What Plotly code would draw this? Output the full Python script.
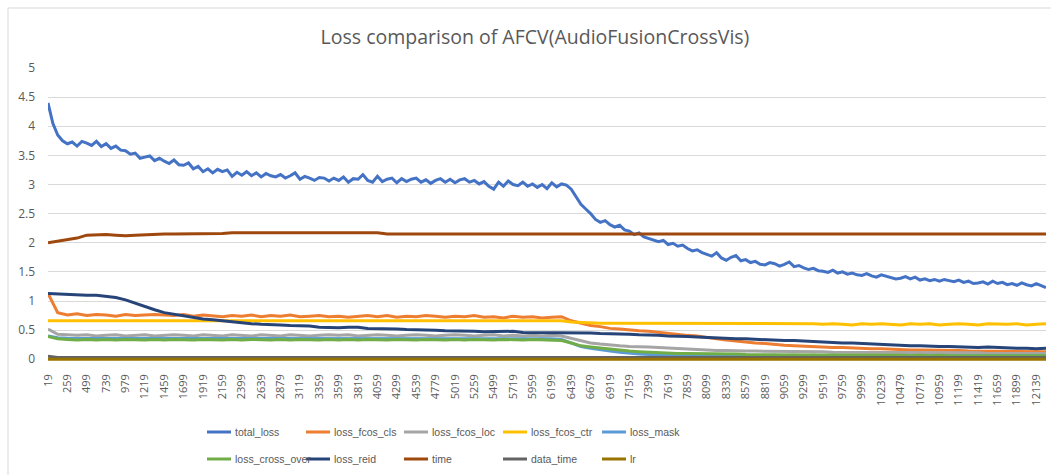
import plotly.graph_objects as go

# ---------------- data ----------------
tick_labels = [19, 259, 499, 739, 979, 1219, 1459, 1699, 1919, 2159, 2399, 2639, 2879,
               3119, 3359, 3599, 3819, 4059, 4299, 4539, 4779, 5019, 5259, 5499, 5719,
               5959, 6199, 6439, 6679, 6919, 7159, 7399, 7619, 7859, 8099, 8339, 8579,
               8819, 9059, 9299, 9519, 9759, 9999, 10239, 10479, 10719, 10959, 11199,
               11419, 11659, 11899, 12139]

# iterations sampled for total_loss (fine)
iters_fine = [19, 79, 139, 199, 259, 319, 379, 439, 499, 559, 619, 679, 739, 799, 859, 919,
              979, 1039, 1099, 1159, 1219, 1279, 1339, 1399, 1459, 1519, 1579, 1639,
              1699, 1759, 1819, 1879, 1919, 1979, 2039, 2099, 2159, 2219, 2279, 2339,
              2399, 2459, 2519, 2579, 2639, 2699, 2759, 2819, 2879, 2939, 2999, 3059,
              3119, 3179, 3239, 3299, 3359, 3419, 3479, 3539, 3599, 3659, 3719, 3779,
              3819, 3879, 3939, 3999, 4059, 4119, 4179, 4239, 4299, 4359, 4419, 4479,
              4539, 4599, 4659, 4719, 4779, 4839, 4899, 4959, 5019, 5079, 5139, 5199,
              5259, 5319, 5379, 5439, 5499, 5559, 5619, 5679, 5719, 5779, 5839, 5899,
              5959, 6019, 6079, 6139, 6199, 6259, 6319, 6379, 6439, 6499, 6559, 6619,
              6679, 6739, 6799, 6859, 6919, 6979, 7039, 7099, 7159, 7219, 7279, 7339,
              7399, 7459, 7519, 7579, 7619, 7679, 7739, 7799, 7859, 7919, 7979, 8039,
              8099, 8159, 8219, 8279, 8339, 8399, 8459, 8519, 8579, 8639, 8699, 8759,
              8819, 8879, 8939, 8999, 9059, 9119, 9179, 9239, 9299, 9359, 9419, 9479,
              9519, 9579, 9639, 9699, 9759, 9819, 9879, 9939, 9999, 10059, 10119, 10179,
              10239, 10299, 10359, 10419, 10479, 10539, 10599, 10659, 10719, 10779, 10839, 10899,
              10959, 11019, 11079, 11139, 11199, 11259, 11319, 11379, 11419, 11479, 11539, 11599,
              11659, 11719, 11779, 11839, 11899, 11959, 12019, 12079, 12139, 12199, 12259]

# iterations sampled for the other series (coarse)
iters = [19, 139, 259, 379, 499, 619, 739, 859, 979, 1099, 1219, 1339, 1459, 1579, 1699, 1819,
         1919, 2039, 2159, 2279, 2399, 2519, 2639, 2759, 2879, 2999, 3119, 3239, 3359, 3479,
         3599, 3719, 3819, 3939, 4059, 4179, 4299, 4419, 4539, 4659, 4779, 4899, 5019, 5139,
         5259, 5379, 5499, 5619, 5719, 5839, 5959, 6079, 6199, 6319, 6439, 6559, 6679, 6799,
         6919, 7039, 7159, 7279, 7399, 7519, 7619, 7739, 7859, 7979, 8099, 8219, 8339, 8459,
         8579, 8699, 8819, 8939, 9059, 9179, 9299, 9419, 9519, 9639, 9759, 9879, 9999, 10119,
         10239, 10359, 10479, 10599, 10719, 10839, 10959, 11079, 11199, 11319, 11419, 11539,
         11659, 11779, 11899, 12019, 12139, 12259]

total_loss = [4.40, 4.05, 3.85, 3.75, 3.70, 3.73, 3.66, 3.74, 3.71, 3.67, 3.74, 3.65,
              3.70, 3.62, 3.66, 3.59, 3.58, 3.52, 3.54, 3.45, 3.47, 3.49, 3.41, 3.45,
              3.40, 3.36, 3.42, 3.34, 3.33, 3.37, 3.27, 3.31, 3.22, 3.27, 3.20, 3.26,
              3.22, 3.25, 3.14, 3.21, 3.16, 3.22, 3.15, 3.20, 3.13, 3.19, 3.15, 3.13,
              3.17, 3.11, 3.15, 3.20, 3.09, 3.14, 3.11, 3.07, 3.12, 3.11, 3.06, 3.11,
              3.07, 3.13, 3.04, 3.10, 3.09, 3.17, 3.07, 3.04, 3.14, 3.05, 3.09, 3.11,
              3.03, 3.10, 3.05, 3.09, 3.11, 3.04, 3.08, 3.02, 3.07, 3.10, 3.04, 3.09,
              3.03, 3.08, 3.10, 3.04, 3.07, 3.01, 3.05, 2.97, 2.92, 3.04, 2.97, 3.06,
              3.00, 2.98, 3.04, 2.97, 3.01, 2.95, 3.00, 2.93, 3.03, 2.96, 3.01, 2.99,
              2.92, 2.78, 2.66, 2.58, 2.50, 2.40, 2.35, 2.38, 2.31, 2.27, 2.30, 2.22,
              2.20, 2.14, 2.17, 2.10, 2.07, 2.05, 2.02, 2.04, 1.97, 1.99, 1.94, 1.96,
              1.90, 1.86, 1.88, 1.83, 1.80, 1.77, 1.83, 1.74, 1.70, 1.75, 1.78, 1.69,
              1.71, 1.66, 1.68, 1.63, 1.62, 1.66, 1.64, 1.60, 1.63, 1.67, 1.59, 1.61,
              1.57, 1.54, 1.56, 1.52, 1.51, 1.49, 1.53, 1.48, 1.50, 1.46, 1.48, 1.45,
              1.44, 1.47, 1.43, 1.41, 1.45, 1.43, 1.40, 1.38, 1.39, 1.42, 1.38, 1.41,
              1.36, 1.38, 1.35, 1.37, 1.34, 1.37, 1.35, 1.33, 1.36, 1.32, 1.34, 1.30,
              1.31, 1.33, 1.29, 1.34, 1.30, 1.32, 1.28, 1.30, 1.27, 1.31, 1.28, 1.26,
              1.30, 1.27, 1.23]

loss_fcos_cls = [1.13, 0.80, 0.76, 0.78, 0.75, 0.77, 0.76, 0.74, 0.77, 0.75,
                 0.76, 0.77, 0.76, 0.75, 0.77, 0.74, 0.76, 0.75, 0.73, 0.75,
                 0.74, 0.76, 0.73, 0.75, 0.74, 0.76, 0.73, 0.74, 0.75, 0.73,
                 0.74, 0.72, 0.74, 0.75, 0.73, 0.75, 0.72, 0.74, 0.73, 0.75,
                 0.74, 0.72, 0.74, 0.73, 0.75, 0.72, 0.73, 0.71, 0.74, 0.72,
                 0.73, 0.71, 0.72, 0.73, 0.66, 0.62, 0.58, 0.56, 0.53, 0.52,
                 0.50, 0.49, 0.48, 0.46, 0.45, 0.43, 0.41, 0.40, 0.37, 0.35,
                 0.33, 0.31, 0.30, 0.28, 0.27, 0.25, 0.24, 0.23, 0.22, 0.21,
                 0.21, 0.20, 0.20, 0.19, 0.19, 0.18, 0.18, 0.17, 0.17, 0.16,
                 0.16, 0.16, 0.15, 0.15, 0.15, 0.14, 0.14, 0.14, 0.14, 0.13,
                 0.14, 0.13, 0.13, 0.13]

loss_fcos_loc = [0.52, 0.43, 0.42, 0.41, 0.42, 0.40, 0.41, 0.42, 0.40, 0.41,
                 0.42, 0.40, 0.41, 0.42, 0.41, 0.40, 0.42, 0.41, 0.40, 0.42,
                 0.41, 0.40, 0.42, 0.41, 0.40, 0.42, 0.41, 0.40, 0.41, 0.42,
                 0.41, 0.42, 0.40, 0.41, 0.42, 0.41, 0.40, 0.41, 0.42, 0.41,
                 0.40, 0.41, 0.42, 0.41, 0.40, 0.41, 0.42, 0.40, 0.41, 0.40,
                 0.41, 0.40, 0.41, 0.40, 0.36, 0.32, 0.28, 0.26, 0.24, 0.23,
                 0.22, 0.22, 0.21, 0.20, 0.19, 0.18, 0.17, 0.16, 0.16, 0.15,
                 0.15, 0.14, 0.14, 0.14, 0.14, 0.13, 0.13, 0.13, 0.13, 0.13,
                 0.13, 0.12, 0.12, 0.12, 0.12, 0.12, 0.12, 0.12, 0.12, 0.11,
                 0.11, 0.11, 0.11, 0.11, 0.11, 0.11, 0.11, 0.10, 0.10, 0.10,
                 0.10, 0.10, 0.10, 0.10]

loss_fcos_ctr = [0.66, 0.66, 0.66, 0.66, 0.66, 0.66, 0.66, 0.66, 0.65, 0.66,
                 0.66, 0.66, 0.66, 0.66, 0.66, 0.66, 0.66, 0.66, 0.66, 0.66,
                 0.66, 0.66, 0.66, 0.66, 0.66, 0.66, 0.66, 0.66, 0.66, 0.66,
                 0.66, 0.66, 0.66, 0.66, 0.66, 0.66, 0.66, 0.66, 0.66, 0.66,
                 0.66, 0.66, 0.66, 0.66, 0.66, 0.66, 0.66, 0.66, 0.66, 0.66,
                 0.66, 0.66, 0.66, 0.66, 0.64, 0.63, 0.62, 0.62, 0.62, 0.62,
                 0.62, 0.62, 0.62, 0.61, 0.61, 0.61, 0.61, 0.61, 0.61, 0.61,
                 0.61, 0.61, 0.61, 0.61, 0.61, 0.61, 0.61, 0.61, 0.61, 0.61,
                 0.60, 0.61, 0.60, 0.59, 0.61, 0.60, 0.61, 0.60, 0.59, 0.61,
                 0.60, 0.61, 0.59, 0.60, 0.61, 0.60, 0.59, 0.61, 0.60, 0.60,
                 0.61, 0.59, 0.60, 0.61]

loss_mask = [0.40, 0.37, 0.36, 0.36, 0.35, 0.36, 0.35, 0.36, 0.35, 0.35,
             0.36, 0.35, 0.36, 0.35, 0.35, 0.36, 0.35, 0.36, 0.35, 0.36,
             0.35, 0.36, 0.35, 0.35, 0.36, 0.35, 0.36, 0.35, 0.36, 0.35,
             0.35, 0.36, 0.35, 0.36, 0.35, 0.35, 0.36, 0.35, 0.36, 0.35,
             0.36, 0.35, 0.35, 0.36, 0.35, 0.36, 0.35, 0.35, 0.36, 0.35,
             0.35, 0.35, 0.35, 0.34, 0.28, 0.22, 0.19, 0.16, 0.14, 0.12,
             0.10, 0.09, 0.08, 0.08, 0.07, 0.07, 0.07, 0.07, 0.07, 0.07,
             0.07, 0.07, 0.07, 0.06, 0.07, 0.07, 0.06, 0.07, 0.06, 0.07,
             0.06, 0.07, 0.06, 0.06, 0.07, 0.06, 0.06, 0.07, 0.06, 0.06,
             0.06, 0.06, 0.07, 0.06, 0.06, 0.06, 0.06, 0.06, 0.06, 0.06,
             0.06, 0.06, 0.06, 0.06]

loss_cross_over = [0.39, 0.35, 0.34, 0.33, 0.34, 0.33, 0.34, 0.33, 0.34, 0.33,
                   0.33, 0.34, 0.33, 0.34, 0.33, 0.33, 0.34, 0.33, 0.33, 0.34,
                   0.33, 0.34, 0.33, 0.33, 0.34, 0.33, 0.34, 0.33, 0.33, 0.34,
                   0.33, 0.34, 0.33, 0.34, 0.33, 0.33, 0.34, 0.33, 0.33, 0.34,
                   0.33, 0.33, 0.34, 0.33, 0.34, 0.33, 0.33, 0.34, 0.33, 0.33,
                   0.34, 0.33, 0.33, 0.32, 0.28, 0.23, 0.21, 0.19, 0.17, 0.15,
                   0.14, 0.13, 0.12, 0.11, 0.11, 0.10, 0.10, 0.10, 0.09, 0.09,
                   0.09, 0.09, 0.08, 0.08, 0.08, 0.08, 0.08, 0.08, 0.07, 0.07,
                   0.07, 0.07, 0.07, 0.07, 0.07, 0.07, 0.07, 0.07, 0.07, 0.06,
                   0.07, 0.06, 0.07, 0.06, 0.06, 0.07, 0.06, 0.06, 0.06, 0.06,
                   0.06, 0.06, 0.06, 0.06]

loss_reid = [1.13, 1.12, 1.12, 1.11, 1.10, 1.10, 1.08, 1.06, 1.02, 0.96,
             0.91, 0.85, 0.80, 0.77, 0.75, 0.72, 0.69, 0.68, 0.66, 0.64,
             0.63, 0.61, 0.60, 0.60, 0.59, 0.58, 0.58, 0.57, 0.55, 0.54,
             0.54, 0.55, 0.55, 0.53, 0.53, 0.52, 0.52, 0.51, 0.51, 0.50,
             0.50, 0.49, 0.49, 0.48, 0.48, 0.47, 0.47, 0.47, 0.48, 0.46,
             0.46, 0.46, 0.45, 0.46, 0.46, 0.45, 0.45, 0.44, 0.44, 0.43,
             0.43, 0.42, 0.42, 0.41, 0.40, 0.40, 0.39, 0.38, 0.37, 0.36,
             0.36, 0.35, 0.35, 0.34, 0.33, 0.33, 0.32, 0.32, 0.31, 0.31,
             0.30, 0.29, 0.28, 0.28, 0.27, 0.26, 0.25, 0.25, 0.24, 0.23,
             0.23, 0.22, 0.22, 0.22, 0.21, 0.21, 0.20, 0.21, 0.20, 0.19,
             0.19, 0.19, 0.18, 0.19]

time_s = [2.00, 2.03, 2.05, 2.08, 2.13, 2.14, 2.14, 2.13, 2.12, 2.13,
          2.14, 2.15, 2.15, 2.15, 2.15, 2.15, 2.15, 2.16, 2.16, 2.17,
          2.17, 2.17, 2.17, 2.17, 2.17, 2.17, 2.17, 2.17, 2.17, 2.16,
          2.16, 2.17, 2.17, 2.17, 2.17, 2.15, 2.15, 2.15, 2.15, 2.15,
          2.15, 2.15, 2.15, 2.15, 2.15, 2.15, 2.15, 2.15, 2.15, 2.15,
          2.15, 2.15, 2.15, 2.15, 2.15, 2.15, 2.15, 2.15, 2.15, 2.15,
          2.15, 2.15, 2.15, 2.15, 2.15, 2.15, 2.15, 2.15, 2.15, 2.15,
          2.15, 2.15, 2.15, 2.15, 2.15, 2.15, 2.15, 2.15, 2.15, 2.15,
          2.15, 2.15, 2.15, 2.15, 2.15, 2.15, 2.15, 2.15, 2.15, 2.15,
          2.15, 2.15, 2.15, 2.15, 2.15, 2.15, 2.15, 2.15, 2.15, 2.15,
          2.15, 2.15, 2.15, 2.15]

data_time = [0.05, 0.03, 0.03, 0.03, 0.03, 0.03, 0.03, 0.03, 0.03, 0.03,
             0.03, 0.03, 0.03, 0.03, 0.03, 0.03, 0.03, 0.03, 0.03, 0.03,
             0.03, 0.03, 0.03, 0.03, 0.03, 0.03, 0.03, 0.03, 0.03, 0.03,
             0.03, 0.03, 0.03, 0.03, 0.03, 0.03, 0.03, 0.03, 0.03, 0.03,
             0.03, 0.03, 0.03, 0.03, 0.03, 0.03, 0.03, 0.03, 0.03, 0.03,
             0.03, 0.03, 0.03, 0.03, 0.03, 0.03, 0.03, 0.03, 0.03, 0.03,
             0.03, 0.03, 0.03, 0.03, 0.03, 0.03, 0.03, 0.03, 0.03, 0.03,
             0.03, 0.03, 0.03, 0.03, 0.03, 0.03, 0.03, 0.03, 0.03, 0.03,
             0.03, 0.03, 0.03, 0.03, 0.03, 0.03, 0.03, 0.03, 0.03, 0.03,
             0.03, 0.03, 0.03, 0.03, 0.03, 0.03, 0.03, 0.03, 0.03, 0.03,
             0.03, 0.03, 0.03, 0.03]

lr = [0.001, 0.001, 0.001, 0.001, 0.001, 0.001, 0.001, 0.001, 0.001, 0.001,
      0.001, 0.001, 0.001, 0.001, 0.001, 0.001, 0.001, 0.001, 0.001, 0.001,
      0.001, 0.001, 0.001, 0.001, 0.001, 0.001, 0.001, 0.001, 0.001, 0.001,
      0.001, 0.001, 0.001, 0.001, 0.001, 0.001, 0.001, 0.001, 0.001, 0.001,
      0.001, 0.001, 0.001, 0.001, 0.001, 0.001, 0.001, 0.001, 0.001, 0.001,
      0.001, 0.001, 0.001, 0.001, 0.001, 0.001, 0.001, 0.001, 0.001, 0.001,
      0.001, 0.001, 0.001, 0.001, 0.001, 0.001, 0.001, 0.001, 0.001, 0.001,
      0.001, 0.001, 0.001, 0.001, 0.001, 0.001, 0.001, 0.001, 0.001, 0.001,
      0.001, 0.001, 0.001, 0.001, 0.001, 0.001, 0.001, 0.001, 0.001, 0.001,
      0.001, 0.001, 0.001, 0.001, 0.001, 0.001, 0.001, 0.001, 0.001, 0.001,
      0.001, 0.001, 0.001, 0.001]

series = [
    ("total_loss", iters_fine, total_loss, "#4472C4"),
    ("loss_fcos_cls", iters, loss_fcos_cls, "#ED7D31"),
    ("loss_fcos_loc", iters, loss_fcos_loc, "#A5A5A5"),
    ("loss_fcos_ctr", iters, loss_fcos_ctr, "#FFC000"),
    ("loss_mask", iters, loss_mask, "#5B9BD5"),
    ("loss_cross_over", iters, loss_cross_over, "#70AD47"),
    ("loss_reid", iters, loss_reid, "#264478"),
    ("time", iters, time_s, "#9E480E"),
    ("data_time", iters, data_time, "#636363"),
    ("lr", iters, lr, "#997300"),
]

for name, xs, ys, col in series:
    assert len(xs) == len(ys), (name, len(xs), len(ys))

fig = go.Figure()
for name, xs, ys, col in series:
    fig.add_trace(go.Scatter(
        x=[str(v) for v in xs], y=ys, name=name, mode="lines",
        line=dict(color=col, width=3), showlegend=False,
    ))

TXT = "#595959"
FONT = "Open Sans"
LEGFONT = "Liberation Sans"

# pixel -> paper helpers (plot area: left 48, width 998, bottom 361, height 293)
PL, PW, PB, PH = 48, 998, 361, 293
def px_x(v):
    return (v - PL) / PW
def px_y(v):
    return (PB - v) / PH

shapes = [dict(type="rect", xref="paper", yref="paper",
               x0=px_x(8), x1=px_x(1070), y0=px_y(490), y1=px_y(8),
               line=dict(color="#D9D9D9", width=1), fillcolor="rgba(0,0,0,0)",
               layer="below")]
annotations = []

# Excel-style legend: 2 rows x 5 columns below the chart
col_x = [207, 306, 404, 503, 602]
row_y = [432, 459]
for i, (name, xs, ys, col) in enumerate(series):
    cx = col_x[i % 5]
    ry = row_y[i // 5]
    shapes.append(dict(type="line", xref="paper", yref="paper",
                       x0=px_x(cx), x1=px_x(cx + 24), y0=px_y(ry), y1=px_y(ry),
                       line=dict(color=col, width=3)))
    annotations.append(dict(text=name, xref="paper", yref="paper",
                            x=px_x(cx + 26), y=px_y(ry), xanchor="left", yanchor="middle",
                            showarrow=False,
                            font=dict(family=LEGFONT, size=10.5, color=TXT)))

fig.update_layout(
    width=1051, height=475,
    margin=dict(l=48, r=5, t=68, b=114, autoexpand=False),
    paper_bgcolor="white", plot_bgcolor="white",
    title=dict(text="Loss comparison of AFCV(AudioFusionCrossVis)",
               x=535 / 1051, xref="container", xanchor="center",
               y=1 - 37 / 475, yref="container", yanchor="middle",
               font=dict(family=FONT, size=19.5, color=TXT)),
    xaxis=dict(type="category", categoryorder="array",
               categoryarray=[str(v) for v in iters_fine],
               range=[0, len(iters_fine) - 1],
               tickmode="array", tickvals=[str(v) for v in tick_labels],
               ticktext=[str(v) for v in tick_labels],
               tickangle=-90, showgrid=False, zeroline=False, showline=False,
               ticks="", ticklabelstandoff=10,
               tickfont=dict(family=FONT, size=11, color=TXT)),
    yaxis=dict(range=[-0.03, 5], tick0=0, dtick=0.5, showgrid=True,
               gridcolor="#D9D9D9", gridwidth=1, zeroline=False, showline=False,
               ticks="", ticklabelstandoff=12,
               tickfont=dict(family=FONT, size=12, color=TXT)),
    showlegend=False,
    shapes=shapes,
    annotations=annotations,
)

fig.write_html("out.html", config={"displayModeBar": False},
               post_script="document.body.style.margin='0';")
